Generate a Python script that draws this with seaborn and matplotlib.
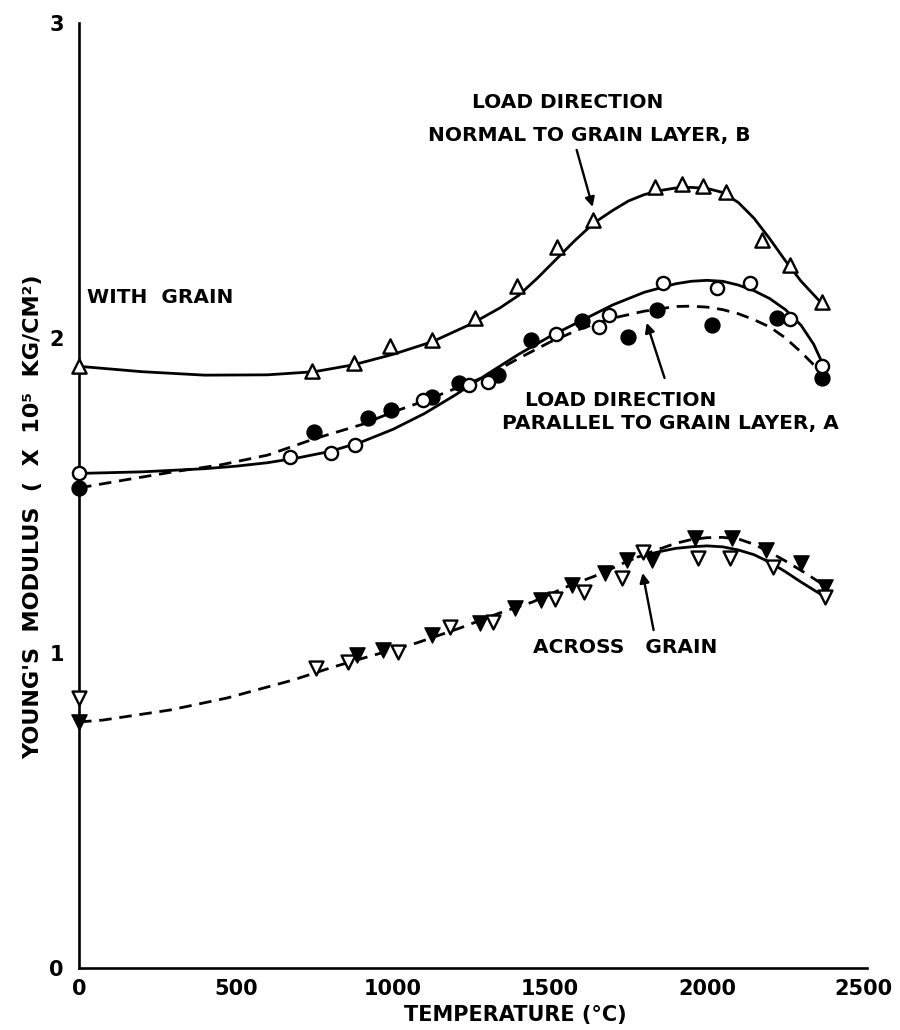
import matplotlib
matplotlib.use("Agg")
import matplotlib.pyplot as plt
import seaborn as sns

# ---------------- measured data: Young's modulus (x 10^5 kg/cm^2) vs temperature (deg C)
# With grain, load normal to grain layer (B): open triangles
b_temp = [0, 742, 875, 990, 1123, 1262, 1396, 1521, 1636, 1836, 1922, 1989, 2062, 2174, 2263, 2365]
b_mod = [1.91, 1.895, 1.922, 1.976, 1.992, 2.062, 2.165, 2.289, 2.376, 2.478, 2.49, 2.483, 2.463, 2.311, 2.232, 2.114]

# With grain, load parallel to grain layer (A): open and filled circles
a_open_temp = [0, 672, 802, 878, 1095, 1241, 1302, 1518, 1657, 1689, 1859, 2031, 2137, 2264, 2368]
a_open_mod = [1.571, 1.621, 1.635, 1.66, 1.803, 1.851, 1.86, 2.013, 2.035, 2.073, 2.175, 2.159, 2.175, 2.06, 1.912]
a_fill_temp = [0, 750, 920, 993, 1123, 1210, 1334, 1440, 1602, 1750, 1840, 2016, 2222, 2368]
a_fill_mod = [1.524, 1.703, 1.746, 1.771, 1.813, 1.858, 1.883, 1.992, 2.054, 2.002, 2.089, 2.04, 2.065, 1.872]

# Across grain: open and filled inverted triangles
c_open_temp = [0, 754, 856, 1015, 1181, 1318, 1515, 1610, 1731, 1795, 1973, 2072, 2209, 2377]
c_open_mod = [0.857, 0.952, 0.971, 1.003, 1.083, 1.098, 1.171, 1.194, 1.238, 1.321, 1.302, 1.302, 1.273, 1.178]
c_fill_temp = [0, 885, 968, 1123, 1276, 1388, 1473, 1569, 1674, 1744, 1824, 1961, 2081, 2189, 2298, 2377]
c_fill_mod = [0.781, 0.994, 1.01, 1.057, 1.095, 1.143, 1.168, 1.216, 1.254, 1.295, 1.295, 1.365, 1.365, 1.327, 1.286, 1.21]

# Faired curves drawn through each set
b_curve_temp = [0, 200, 400, 600, 750, 875, 1000, 1125, 1250, 1340, 1400, 1460, 1520, 1580, 1640,
                1700, 1750, 1800, 1850, 1900, 1950, 2000, 2050, 2100, 2150, 2200, 2250, 2300, 2370]
b_curve_mod = [1.91, 1.893, 1.882, 1.883, 1.893, 1.915, 1.948, 1.988, 2.045, 2.095, 2.135, 2.19,
               2.25, 2.31, 2.365, 2.405, 2.435, 2.455, 2.468, 2.476, 2.478, 2.475, 2.462, 2.43,
               2.38, 2.315, 2.245, 2.18, 2.105]

a_solid_temp = [0, 200, 400, 500, 600, 700, 800, 900, 1000, 1100, 1200, 1300, 1400, 1500, 1600,
                1700, 1800, 1900, 1950, 2000, 2050, 2100, 2150, 2200, 2250, 2300, 2340, 2370]
a_solid_mod = [1.57, 1.575, 1.585, 1.593, 1.604, 1.62, 1.64, 1.67, 1.71, 1.76, 1.82, 1.885, 1.948,
               2.005, 2.055, 2.105, 2.145, 2.172, 2.18, 2.183, 2.18, 2.168, 2.15, 2.125, 2.09,
               2.04, 1.98, 1.915]

a_dash_temp = [0, 150, 300, 450, 600, 750, 900, 1000, 1100, 1200, 1300, 1400, 1500, 1600, 1700,
               1800, 1900, 1950, 2000, 2050, 2100, 2150, 2200, 2250, 2300, 2370]
a_dash_mod = [1.524, 1.55, 1.575, 1.597, 1.628, 1.68, 1.725, 1.765, 1.80, 1.84, 1.88, 1.935, 1.987,
              2.03, 2.063, 2.085, 2.1, 2.101, 2.098, 2.09, 2.077, 2.058, 2.035, 2.0, 1.955, 1.885]

c_dash_temp = [0, 76, 290, 471, 681, 808, 917, 1076, 1213, 1340, 1445, 1553, 1658, 1744, 1820,
               1900, 1950, 2000, 2050, 2100, 2150, 2200, 2250, 2300, 2381]
c_dash_mod = [0.781, 0.787, 0.819, 0.857, 0.914, 0.955, 0.987, 1.032, 1.079, 1.127, 1.162, 1.21,
              1.25, 1.29, 1.32, 1.348, 1.36, 1.366, 1.367, 1.362, 1.345, 1.32, 1.292, 1.262, 1.21]

c_solid_temp = [1780, 1850, 1900, 1950, 2000, 2050, 2100, 2150, 2200, 2250, 2300, 2381]
c_solid_mod = [1.305, 1.322, 1.332, 1.337, 1.34, 1.337, 1.327, 1.312, 1.288, 1.258, 1.225, 1.175]

x_ticks = [0, 500, 1000, 1500, 2000, 2500]
y_ticks = [0, 1, 2, 3]

# ---------------- figure
sns.set_style("white")
plt.rcParams["font.family"] = ["DejaVu Sans"]
plt.rcParams["font.weight"] = "bold"
plt.rcParams["text.color"] = "black"
plt.rcParams["axes.labelcolor"] = "black"
plt.rcParams["xtick.color"] = "black"
plt.rcParams["ytick.color"] = "black"

fig = plt.figure(figsize=(9, 10.3), dpi=100)
ax = fig.add_axes([0.0878, 0.0602, 0.8756, 0.9175])

LW = 2.0
DASH = (0, (4.5, 2.8))

sns.lineplot(x=b_curve_temp, y=b_curve_mod, ax=ax, color="black", lw=LW, sort=False, estimator=None)
sns.lineplot(x=a_solid_temp, y=a_solid_mod, ax=ax, color="black", lw=LW, sort=False, estimator=None)
sns.lineplot(x=a_dash_temp, y=a_dash_mod, ax=ax, color="black", lw=LW, linestyle=DASH,
             sort=False, estimator=None)
sns.lineplot(x=c_dash_temp, y=c_dash_mod, ax=ax, color="black", lw=LW, linestyle=DASH,
             sort=False, estimator=None)
sns.lineplot(x=c_solid_temp, y=c_solid_mod, ax=ax, color="black", lw=LW, sort=False, estimator=None)

open_kw = dict(facecolor="white", edgecolor="black", linewidth=1.7, zorder=4, clip_on=False, legend=False)
fill_kw = dict(facecolor="black", edgecolor="black", linewidth=1.0, zorder=4, clip_on=False, legend=False)

sns.scatterplot(x=b_temp, y=b_mod, marker="^", s=105, ax=ax, **open_kw)
sns.scatterplot(x=a_fill_temp, y=a_fill_mod, marker="o", s=115, ax=ax, **fill_kw)
sns.scatterplot(x=a_open_temp, y=a_open_mod, marker="o", s=90, ax=ax, **open_kw)
sns.scatterplot(x=c_fill_temp, y=c_fill_mod, marker="v", s=120, ax=ax, **fill_kw)
sns.scatterplot(x=c_open_temp, y=c_open_mod, marker="v", s=100, ax=ax, **open_kw)

# ---------------- axes styling
ax.set_xlim(0, 2510)
ax.set_ylim(0, 3)
ax.set_xticks(x_ticks)
ax.set_yticks(y_ticks)
ax.set_xticklabels([str(t) for t in x_ticks], fontsize=15, fontweight="bold")
ax.set_yticklabels([str(t) for t in y_ticks], fontsize=15, fontweight="bold")
ax.tick_params(axis="x", direction="in", length=9, width=1.6, pad=8, colors="black")
ax.tick_params(axis="y", direction="in", length=6, width=1.6, pad=11, colors="black")
sns.despine(ax=ax, top=True, right=True)
for side in ("left", "bottom"):
    ax.spines[side].set_linewidth(1.9)
    ax.spines[side].set_color("black")

ax.set_xlabel("TEMPERATURE (°C)", fontsize=15, fontweight="bold", color="black")
ax.xaxis.label.set_va("center")
ax.xaxis.set_label_coords(0.554, -0.05)
ax.set_ylabel("YOUNG'S  MODULUS  (  X  10⁵  KG/CM²)", fontsize=16, fontweight="bold", color="black")
ax.yaxis.label.set_va("center")
ax.yaxis.set_label_coords(-0.058, 0.477)

# ---------------- annotations
TXT = dict(fontsize=14.5, fontweight="bold", ha="left", va="center", color="black")
ax.text(25, 2.13, "WITH  GRAIN", **TXT)
ax.text(1251, 2.746, "LOAD DIRECTION", **TXT)
ax.text(1111, 2.644, "NORMAL TO GRAIN LAYER, B", **TXT)
ax.text(1419, 1.803, "LOAD DIRECTION", **TXT)
ax.text(1346, 1.730, "PARALLEL TO GRAIN LAYER, A", **TXT)
ax.text(1445, 1.019, "ACROSS   GRAIN", **TXT)

ARROW = dict(arrowstyle="-|>", color="black", lw=1.7, mutation_scale=14, shrinkA=0, shrinkB=0)
ax.annotate("", xy=(1636, 2.416), xytext=(1585, 2.597), arrowprops=ARROW)
ax.annotate("", xy=(1808, 2.048), xytext=(1865, 1.873), arrowprops=ARROW)
ax.annotate("", xy=(1795, 1.254), xytext=(1830, 1.073), arrowprops=ARROW)

fig.savefig("out.png", dpi=100, facecolor="white")
